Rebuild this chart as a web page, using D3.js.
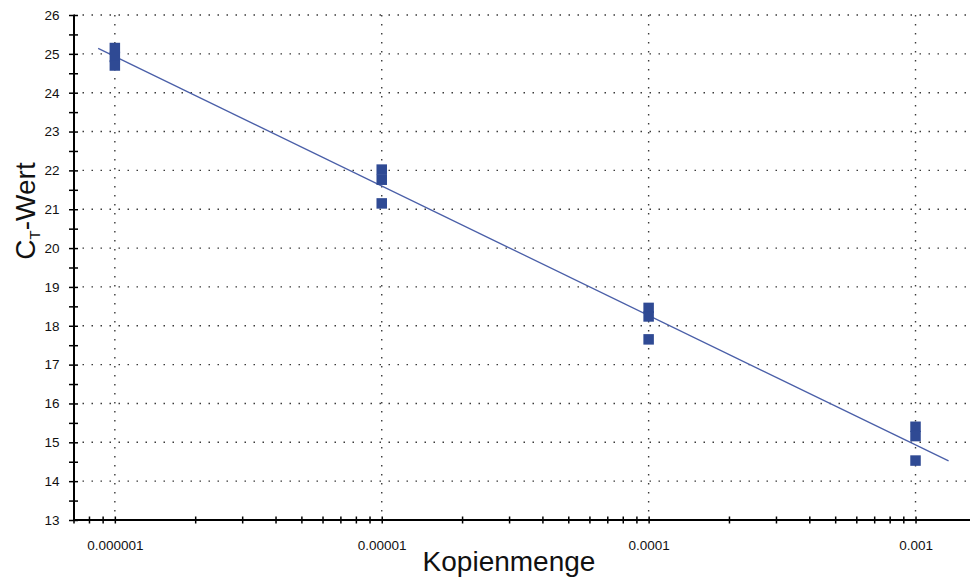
<!DOCTYPE html>
<html>
<head>
<meta charset="utf-8">
<script src="https://cdn.jsdelivr.net/npm/d3@7"></script>
<style>
  body { margin: 0; background: #fff; }
  svg { display: block; font-family: "Liberation Sans", Arial, sans-serif; }
</style>
</head>
<body>
<svg width="971" height="581"></svg>
<script>
// Kopienmenge (log) and Ct values, three replicates per dilution
const copies = [1e-6, 1e-5, 1e-4, 1e-3];
const ctValues = [
  [25.15, 24.92, 24.7],
  [22.02, 21.76, 21.15],
  [18.46, 18.24, 17.65],
  [15.4, 15.16, 14.53]
];
// regression line (endpoints)
const fitX = [8.66e-7, 1.33e-3];
const fitY = [25.14, 14.52];

const xMajor = [1e-6, 1e-5, 1e-4, 1e-3];
const xLabels = ["0.000001", "0.00001", "0.0001", "0.001"];
const yMajor = d3.range(13, 27);

const svg = d3.select("svg");
const mLeft = 73.5, mRight = 970, mTop = 15, mBottom = 520;

const x = d3.scaleLog().domain([7e-7, 1.6e-3]).range([mLeft, mRight]);
const y = d3.scaleLinear().domain([13, 26]).range([mBottom, mTop]);

// minor ticks on the log axis
const xMinor = [];
for (let e = -7; e <= -3; e++) {
  for (let k = 1; k <= 9; k++) {
    const v = k * Math.pow(10, e);
    if (v >= 7e-7 && v <= 1.6e-3 && !xMajor.includes(v)) xMinor.push(v);
  }
}
const yMinor = d3.range(13.5, 26, 1);

// grid
const grid = svg.append("g")
  .attr("stroke", "#3a3a3a")
  .attr("stroke-width", 1.4)
  .attr("stroke-dasharray", "1.5 7.5");
grid.selectAll(".h").data(yMajor.filter(d => d > 13)).join("line")
  .attr("class", "h")
  .attr("x1", mLeft).attr("x2", mRight)
  .attr("y1", d => y(d)).attr("y2", d => y(d));
grid.selectAll(".v").data(xMajor).join("line")
  .attr("class", "v")
  .attr("x1", d => x(d)).attr("x2", d => x(d))
  .attr("y1", mTop).attr("y2", mBottom);

// regression line
svg.append("line")
  .attr("x1", x(fitX[0])).attr("y1", y(fitY[0]))
  .attr("x2", x(fitX[1])).attr("y2", y(fitY[1]))
  .attr("stroke", "#4a5fa8").attr("stroke-width", 1.3);

// points
const pts = [];
copies.forEach((c, i) => ctValues[i].forEach(v => pts.push({ c, v })));
const s = 10.5;
svg.append("g").selectAll("rect").data(pts).join("rect")
  .attr("x", d => x(d.c) - s / 2)
  .attr("y", d => y(d.v) - s / 2)
  .attr("width", s).attr("height", s)
  .attr("fill", "#2f4a94");

// axes
const xAxis = svg.append("g")
  .attr("transform", `translate(0,${mBottom})`)
  .call(d3.axisBottom(x).tickValues(xMajor.concat(xMinor))
    .tickFormat(d => { const i = xMajor.indexOf(d); return i >= 0 ? xLabels[i] : ""; })
    .tickSizeOuter(0).tickPadding(14));
xAxis.select(".domain").attr("stroke-width", 2).attr("d", `M${mLeft},0H${mRight}`);
xAxis.selectAll(".tick line").attr("y1", -3.5).attr("y2", 3.5).attr("stroke-width", 1.5);
xAxis.selectAll(".tick text").attr("font-size", 13.5).attr("fill", "#111");

const yAxis = svg.append("g")
  .attr("transform", `translate(${mLeft},0)`)
  .call(d3.axisLeft(y).tickValues(yMajor.concat(yMinor))
    .tickFormat(d => Number.isInteger(d) ? d : "")
    .tickSizeOuter(0).tickPadding(8));
yAxis.select(".domain").attr("stroke-width", 2);
yAxis.selectAll(".tick line").attr("x1", -4.5).attr("x2", 4.5).attr("stroke-width", 1.5);
yAxis.selectAll(".tick text").attr("font-size", 13.5).attr("fill", "#111");

// titles
svg.append("text")
  .attr("x", 509).attr("y", 571)
  .attr("text-anchor", "middle")
  .attr("font-size", 28).attr("fill", "#111")
  .text("Kopienmenge");

const yl = svg.append("text")
  .attr("transform", "translate(35,211) rotate(-90)")
  .attr("text-anchor", "middle")
  .attr("font-size", 28).attr("fill", "#111");
yl.append("tspan").text("C");
yl.append("tspan").attr("font-size", 15).attr("dy", 5).text("T");
yl.append("tspan").attr("dy", -5).text("-Wert");
</script>
</body>
</html>
